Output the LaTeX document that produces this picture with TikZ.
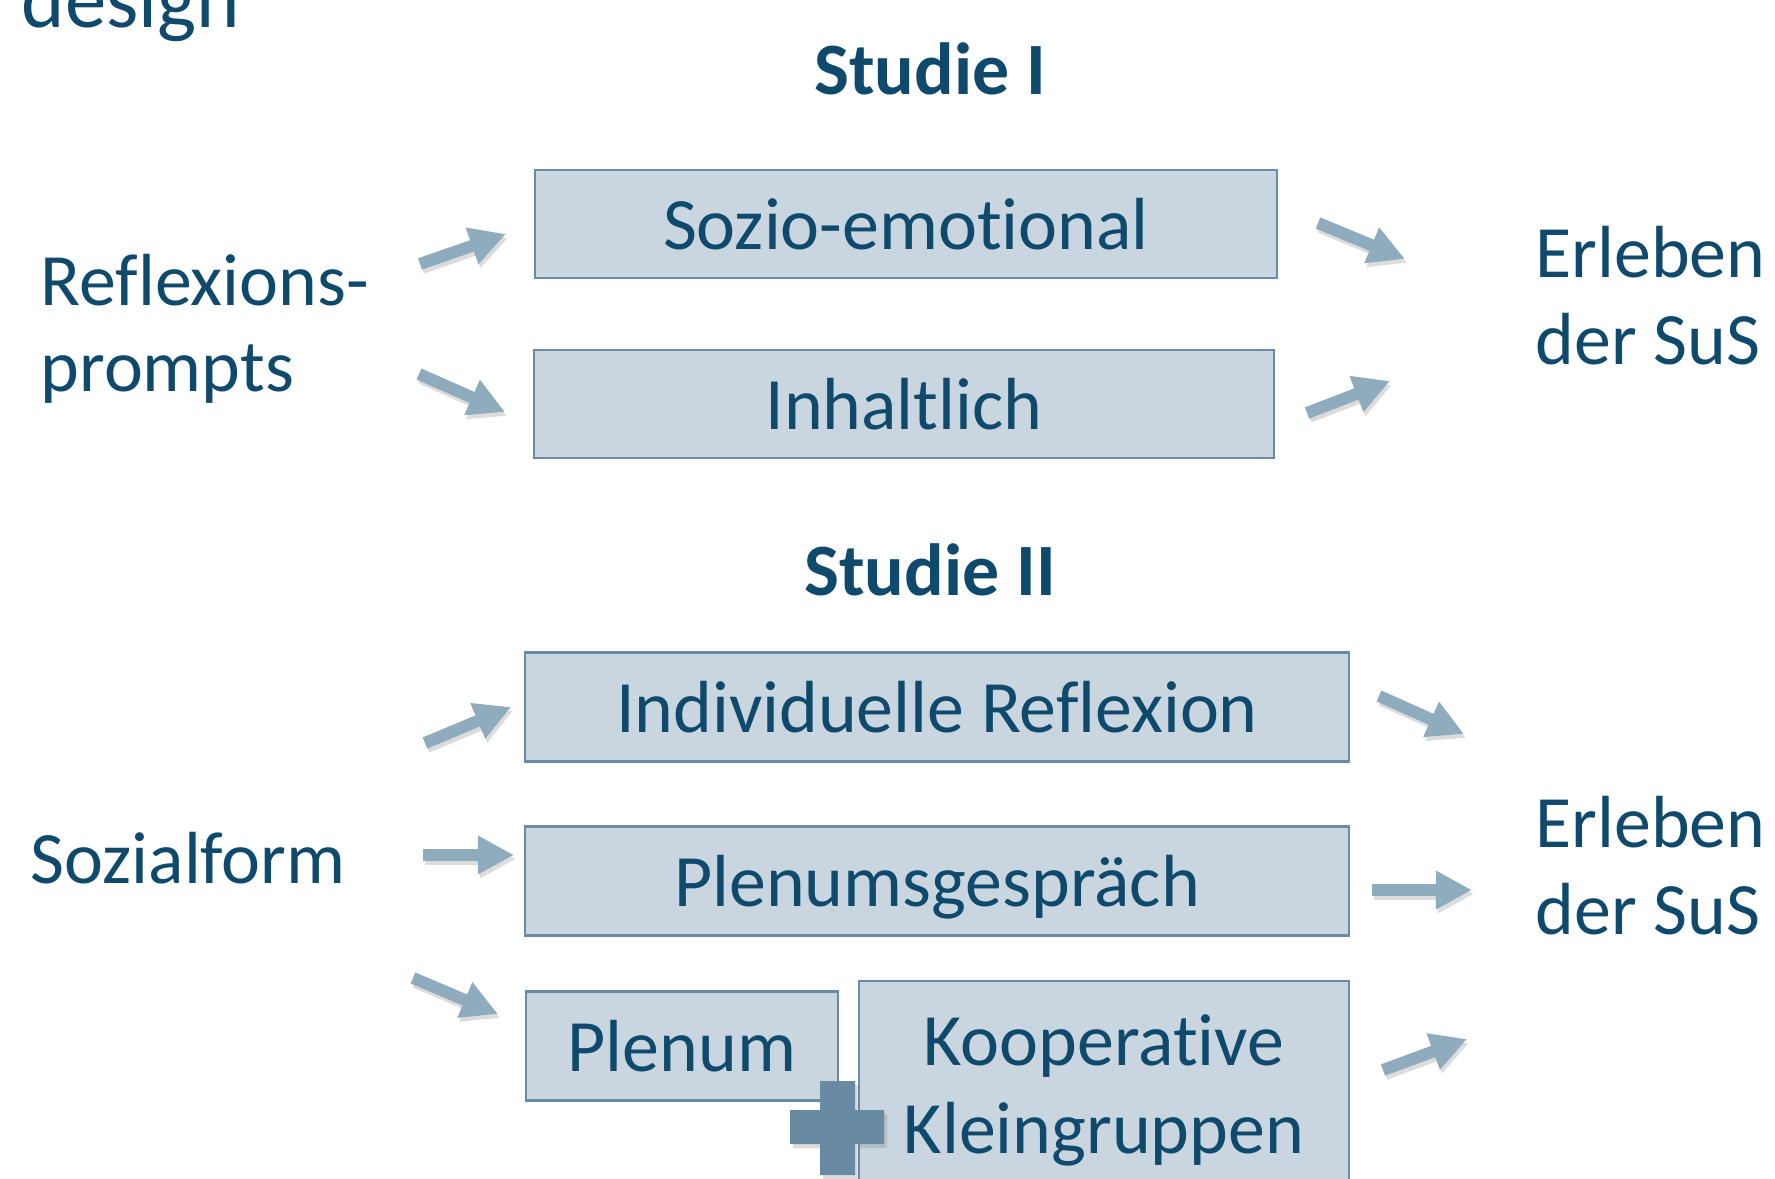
\documentclass[tikz,border=0pt]{standalone}
\usepackage{fontspec}
\setmainfont{Carlito}[Ligatures=NoCommon]
\usetikzlibrary{arrows.meta}
\definecolor{textblau}{RGB}{15,73,108}
\definecolor{kastenfill}{RGB}{201,214,224}
\definecolor{kastenrand}{RGB}{106,139,165}
\definecolor{pfeilgrau}{RGB}{143,171,190}
\definecolor{plusblau}{RGB}{104,138,163}
\tikzset{
	kasten/.style={draw=kastenrand, line width=0.6pt, fill=kastenfill, inner sep=0pt},
	einzeilig/.style={text height=0.5cm, text depth=0pt},
	pfeil/.style={line width=0.12cm, pfeilgrau, -{Triangle[length=0.36cm,width=0.36cm]}},
	pfeilschatten/.style={line width=0.12cm, black!45, opacity=.3, -{Triangle[length=0.36cm,width=0.36cm]}},
	beschriftung/.style={inner sep=0pt, anchor=base west, align=left},
	titel/.style={inner sep=0pt, anchor=base, font=\bfseries\fontsize{21}{24}\selectfont}
}

\begin{document}
\begin{tikzpicture}[x=0.01cm, y=-0.01cm, every node/.style={text=textblau, font=\fontsize{21}{24.5}\selectfont}]
\useasboundingbox (0,0) rectangle (1775,1179);
\clip (0,0) rectangle (1775,1179);

\node[beschriftung, font=\fontsize{23.5}{28}\selectfont] (design) at (21,28) {design};
\node[titel] (studie1) at (930,95) {Studie I};
\node[titel] (studie2) at (930,595) {Studie II};

% Studie I (base = letzte Zeile)
\node[beschriftung] (refl) at (40,392) {Reflexions-\\prompts};
\node[kasten, einzeilig, minimum width=7.42cm, minimum height=1.08cm] (soz) at (906,224) {Sozio-emotional};
\node[kasten, einzeilig, minimum width=7.39cm, minimum height=1.08cm] (inh) at (904,404) {Inhaltlich};
\node[beschriftung] (erleben1) at (1535,364) {Erleben\\der SuS};

% Studie II
\node[beschriftung] (sozf) at (30,883) {Sozialform};
\node[kasten, einzeilig, minimum width=8.23cm, minimum height=1.09cm] (indiv) at (937,707) {Individuelle Reflexion};
\node[kasten, einzeilig, minimum width=8.23cm, minimum height=1.09cm] (plenumsg) at (937,881) {Plenumsgespräch};
\node[kasten, einzeilig, minimum width=3.12cm, minimum height=1.09cm] (plenum) at (682,1046) {Plenum};
\node[kasten, align=center, font=\fontsize{21}{25}\selectfont, minimum width=4.9cm, minimum height=2.18cm] (koop) at (1104,1090) {Kooperative\\Kleingruppen};
\node[beschriftung] (erleben2) at (1535,934) {Erleben\\der SuS};

% plus zwischen Plenum und Kleingruppen
\fill[black!45, opacity=.3] (823,1085) rectangle (858,1179) (793,1114) rectangle (887,1148);
\fill[plusblau] (820,1081) rectangle (855,1175) (790,1110) rectangle (884,1144);

% pfeile
\foreach \i/\s/\e in {1/{420,264}/{506,234}, 2/{419,374}/{505,412}, 3/{1318,223}/{1405,259}, 4/{1307,413}/{1390,381},
	5/{425,743}/{511,707}, 6/{423,855}/{514,855}, 7/{413,978}/{498,1014},
	8/{1379,696}/{1464,734}, 9/{1372,890}/{1472,890}, 10/{1383,1070}/{1467,1039}} {
	\coordinate (s\i) at (\s); \coordinate (e\i) at (\e);
	\draw[pfeilschatten] ([shift={(2,4)}]s\i) -- ([shift={(2,4)}]e\i);
	\draw[pfeil] (s\i) -- (e\i);
}
\end{tikzpicture}
\end{document}
